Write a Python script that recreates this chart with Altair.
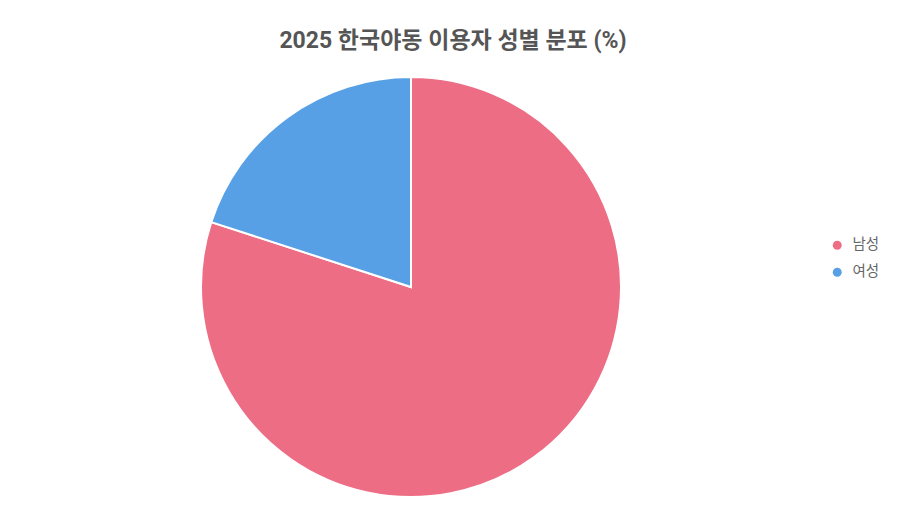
import altair as alt
import pandas as pd

genders = ["남성", "여성"]
shares = [80, 20]
colors = ["#ED6D85", "#57A0E5"]

df = pd.DataFrame({"gender": genders, "share": shares, "order": [0, 1]})

FONT = "Roboto, Noto Sans CJK KR, sans-serif"

chart = (
    alt.Chart(df)
    .mark_arc(radius=210, stroke="white", strokeWidth=2)
    .encode(
        theta=alt.Theta("share:Q", stack=True),
        order=alt.Order("order:Q"),
        color=alt.Color(
            "gender:N",
            scale=alt.Scale(domain=genders, range=colors),
            sort=genders,
            legend=alt.Legend(
                title=None,
                orient="none",
                legendX=822,
                legendY=161,
                symbolType="circle",
                symbolSize=80,
                symbolStrokeWidth=0,
                labelFontSize=14.5,
                labelColor="#666666",
                labelFont=FONT,
                labelOffset=8,
                rowPadding=12,
            ),
        ),
        tooltip=["gender", "share"],
    )
    .properties(
        width=806,
        height=420,
        background="white",
        padding={"left": 0, "top": 22, "right": 0, "bottom": 0},
        title=alt.TitleParams(
            "2025 한국야동 이용자 성별 분포 (%)",
            fontSize=23,
            font=FONT,
            fontWeight="bold",
            color="#555555",
            anchor="middle",
            dx=42,
            offset=20,
        ),
    )
    .configure_view(stroke=None)
)

chart.save("out.html", embed_options={"renderer": "svg", "actions": False})
